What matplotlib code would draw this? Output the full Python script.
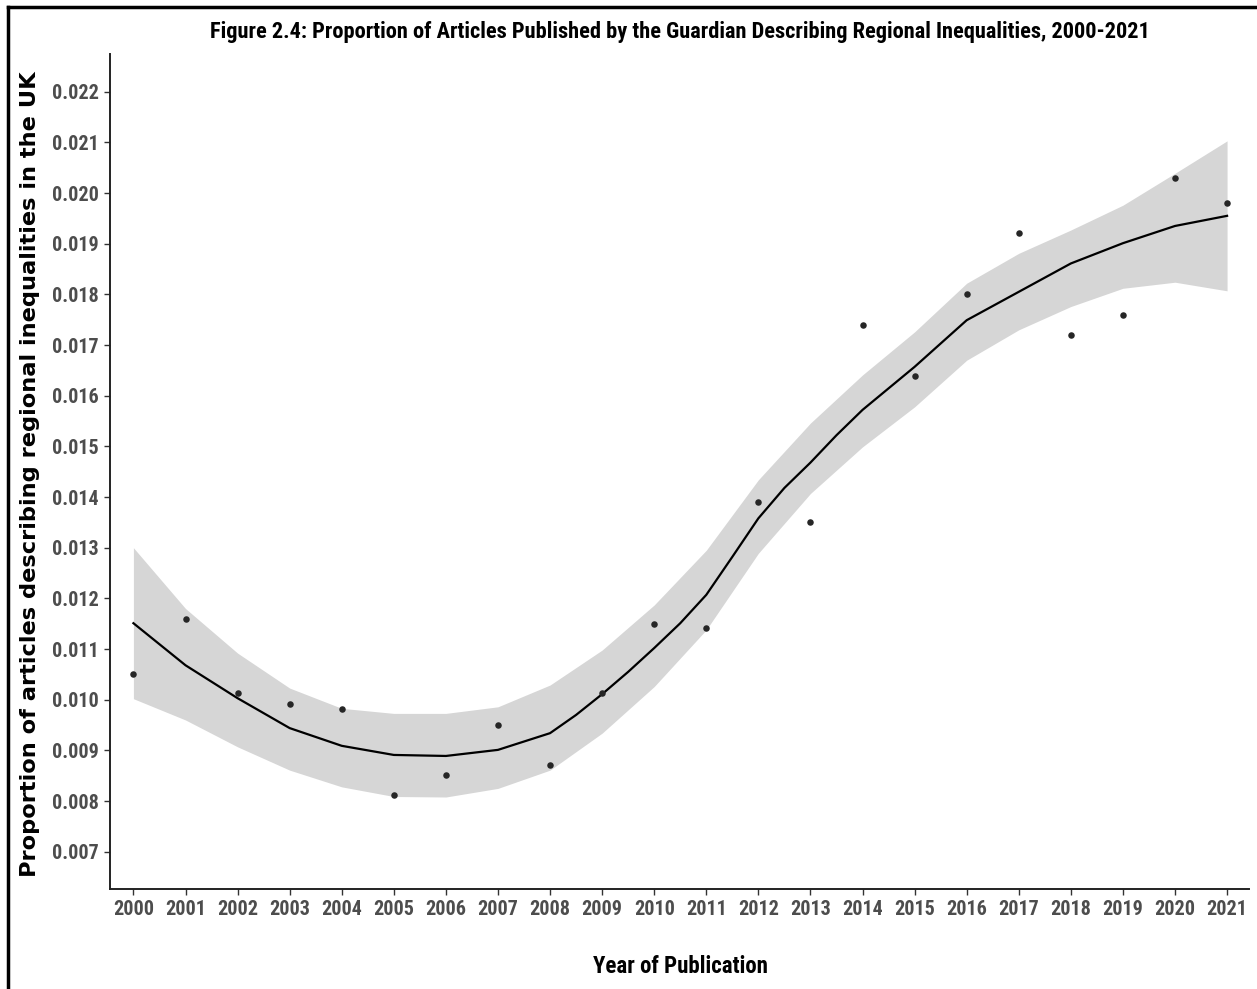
import matplotlib
matplotlib.use('Agg')
import matplotlib.pyplot as plt
from matplotlib.lines import Line2D

# Data
years = list(range(2000, 2022))
proportion = [0.0105, 0.0116, 0.01013, 0.00992, 0.00982, 0.00812, 0.00851, 0.0095,
              0.00871, 0.01013, 0.01149, 0.01142, 0.0139, 0.01351, 0.0174, 0.01639,
              0.01801, 0.01921, 0.0172, 0.0176, 0.0203, 0.0198]

# loess fit as drawn in the reference (extra readings where it bends fast)
fit_x = [2000, 2001, 2002, 2003, 2004, 2005, 2006, 2007, 2008, 2008.5, 2009, 2009.5,
         2010, 2010.5, 2011, 2011.5, 2012, 2012.5, 2013, 2013.5, 2014, 2015,
         2016, 2017, 2018, 2019, 2020, 2021]
fit_y = [0.01151, 0.01068, 0.01003, 0.00944, 0.00909, 0.00891, 0.00889, 0.00901,
         0.00934, 0.0097, 0.01011, 0.01055, 0.01102, 0.01151, 0.01207, 0.01282,
         0.01358, 0.01418, 0.01468, 0.01522, 0.01572, 0.01657, 0.01749, 0.01805,
         0.01861, 0.01901, 0.01935, 0.01955]
# 95% band
smooth_hi = [0.0130, 0.01180, 0.01092, 0.01023, 0.00983, 0.00973, 0.00973, 0.00986,
             0.01029, 0.01098, 0.01187, 0.01295, 0.01434, 0.01546, 0.01641, 0.01726,
             0.01822, 0.01881, 0.01927, 0.01976, 0.02039, 0.02103]
smooth_lo = [0.01002, 0.0096, 0.00907, 0.00861, 0.00828, 0.00809, 0.00808, 0.00825,
             0.00861, 0.00934, 0.01026, 0.01138, 0.01289, 0.01407, 0.01499, 0.01578,
             0.01670, 0.01730, 0.01776, 0.01812, 0.01824, 0.01807]

y_ticks = [0.007, 0.008, 0.009, 0.010, 0.011, 0.012, 0.013, 0.014, 0.015,
           0.016, 0.017, 0.018, 0.019, 0.020, 0.021, 0.022]

# Arial Narrow-like first, then whatever condensed face is around
narrow = ['Liberation Sans Narrow', 'Roboto Condensed', 'PT Sans Narrow',
          'Archivo Narrow', 'Barlow Semi Condensed', 'DejaVu Sans']
# the y label in the original is stretched along its length -> wide face
wide = ['DejaVu Sans']

fig = plt.figure(figsize=(12.57, 9.89), dpi=100)
ax = fig.add_axes([0.0875, 0.1011, 0.9061, 0.8443])

ax.fill_between(years, smooth_lo, smooth_hi, color='#d6d6d6', linewidth=0, zorder=1)
ax.plot(fit_x, fit_y, color='black', linewidth=1.6, zorder=2)
ax.scatter(years, proportion, s=22, color='#262626', zorder=3, linewidths=0)

ax.set_xlim(1999.55, 2021.42)
ax.set_ylim(0.006264, 0.022744)
ax.set_xticks(years)
ax.set_xticklabels([str(y) for y in years])
ax.set_yticks(y_ticks)
ax.set_yticklabels([f'{v:.3f}' for v in y_ticks])

for lab in ax.get_xticklabels() + ax.get_yticklabels():
    lab.set_family(narrow)
    lab.set_fontweight('bold')
    lab.set_fontsize(14.5)
    lab.set_color('#4d4d4d')

ax.tick_params(axis='both', length=4, width=1, color='#333333', pad=4)
for side in ['top', 'right']:
    ax.spines[side].set_visible(False)
for side in ['left', 'bottom']:
    ax.spines[side].set_linewidth(1.4)
    ax.spines[side].set_color('#222222')

fig.text(0.5411, 0.968, 'Figure 2.4: Proportion of Articles Published by the Guardian Describing Regional Inequalities, 2000-2021',
         ha='center', va='center', fontsize=16.1, fontweight='bold', family=narrow)
fig.text(0.5411, 0.023, 'Year of Publication', ha='center', va='center',
         fontsize=16.5, fontweight='bold', family=narrow)
fig.text(0.0235, 0.5207, 'Proportion of articles describing regional inequalities in the UK',
         ha='center', va='center', rotation=90, fontsize=16.2, fontweight='bold', family=wide)

# frame edges visible in the original screenshot
fig.add_artist(Line2D([0.0067, 0.0067], [0.0, 0.993], color='black', linewidth=2.5))
fig.add_artist(Line2D([0.0067, 1.0], [0.993, 0.993], color='black', linewidth=2.5))

fig.savefig('out.png', dpi=100)
